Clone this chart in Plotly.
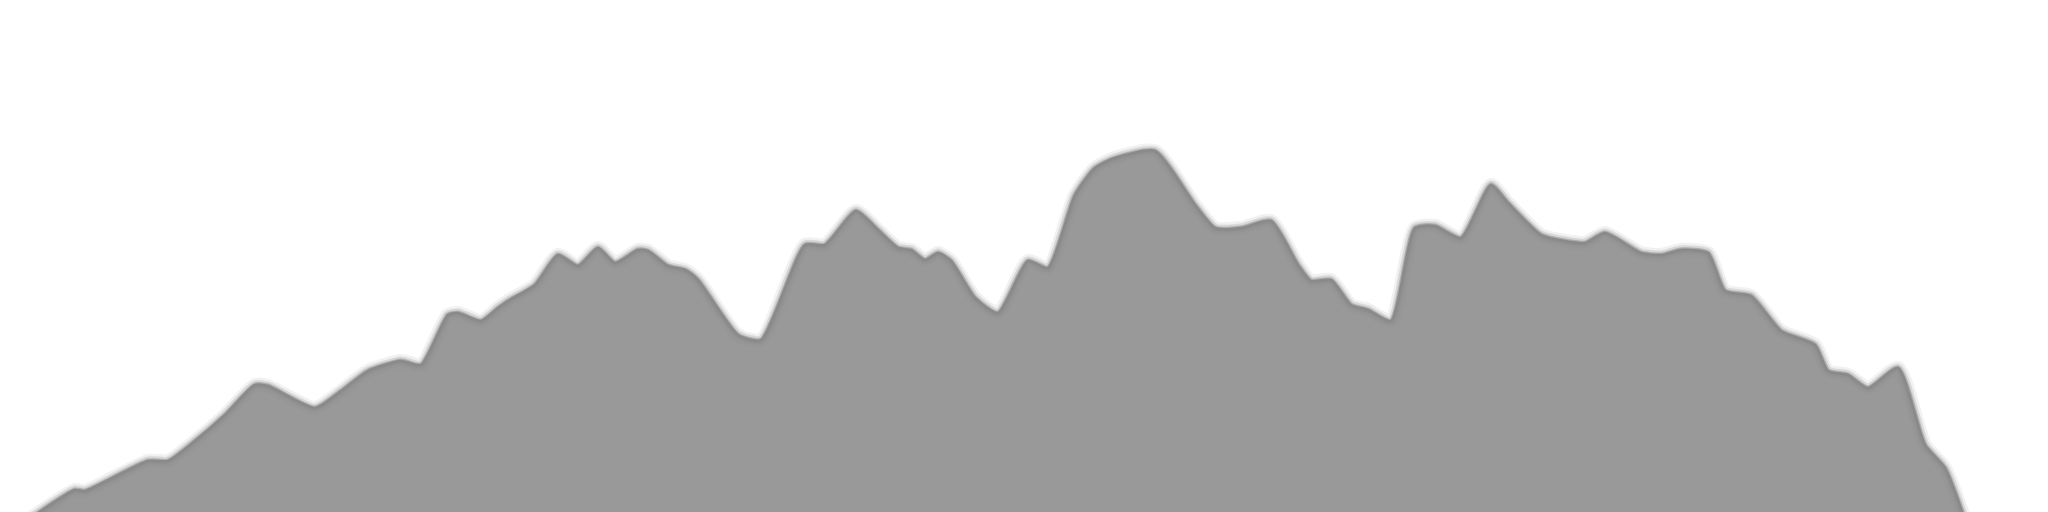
import plotly.graph_objects as go

# profile: distance along the route and height above baseline
distance = [0, 47, 57, 120, 140, 167, 197, 227, 240, 287, 313, 340, 373, 393, 420, 430,
            453, 470, 480, 507, 530, 550, 570, 587, 610, 620, 640, 657, 670, 710, 733,
            777, 797, 828, 850, 870, 883, 897, 910, 923, 947, 970, 1000, 1020, 1047,
            1067, 1087, 1127, 1167, 1187, 1213, 1243, 1270, 1283, 1303, 1323, 1340,
            1363, 1387, 1407, 1433, 1463, 1480, 1513, 1537, 1557, 1577, 1613, 1633,
            1653, 1680, 1697, 1723, 1753, 1787, 1800, 1820, 1840, 1870, 1897, 1917, 1937]
height = [0, 30, 29, 59, 59, 79, 105, 135, 134, 112, 129, 149, 159, 155, 205, 207,
          199, 212, 219, 235, 265, 254, 272, 257, 270, 269, 254, 250, 240, 185, 180,
          275, 275, 309, 290, 272, 270, 260, 267, 259, 222, 207, 259, 252, 325,
          352, 362, 369, 315, 292, 292, 299, 255, 239, 240, 215, 210, 199, 292,
          294, 282, 335, 317, 285, 279, 277, 287, 267, 265, 270, 267, 229, 224,
          189, 175, 149, 145, 132, 152, 75, 52, 0]

fig = go.Figure()

fig.add_trace(go.Scatter(
    x=distance, y=height, mode="lines", fill="tozeroy",
    fillcolor="#999999",
    line=dict(color="#999999", width=0, shape="spline", smoothing=0.6),
    hoverinfo="skip",
))

# blurred darker rim on top of the fill, widest and faintest first
rim = [(14, "rgba(138,138,138,0.12)"), (9, "rgba(138,138,138,0.25)"),
       (5, "rgba(138,138,138,0.55)"), (2.5, "#8a8a8a")]
for w, c in rim:
    fig.add_trace(go.Scatter(x=distance, y=height, mode="lines",
                             line=dict(color=c, width=w, shape="spline", smoothing=0.6),
                             hoverinfo="skip"))
    fig.add_trace(go.Scatter(x=[distance[0], distance[-1]], y=[0, 0], mode="lines",
                             line=dict(color=c, width=w), hoverinfo="skip"))

fig.update_layout(
    width=2048, height=512,
    margin=dict(l=0, r=0, t=0, b=0),
    paper_bgcolor="white", plot_bgcolor="white",
    showlegend=False,
    xaxis=dict(range=[-20, 2028], visible=False),
    yaxis=dict(range=[0, 512], visible=False),
)

fig.write_html("out.html")
